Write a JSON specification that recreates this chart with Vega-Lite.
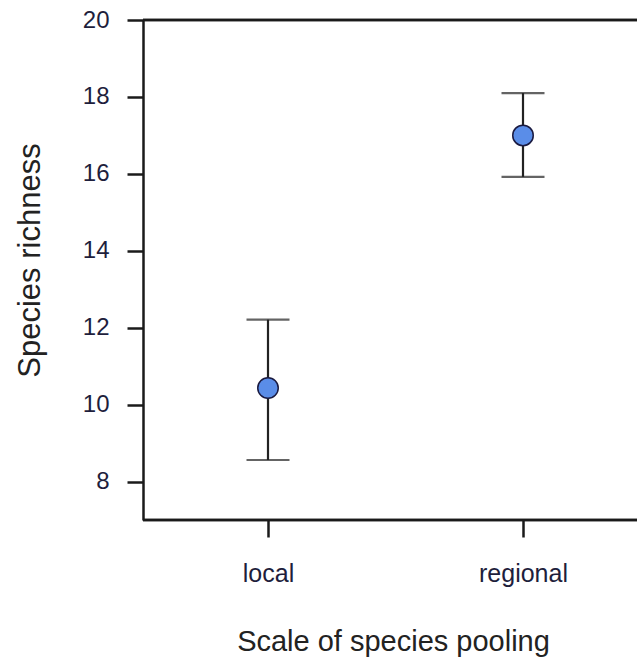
{
  "$schema": "https://vega.github.io/schema/vega-lite/v6.json",
  "width": 494,
  "height": 500,
  "autosize": {"type": "none"},
  "padding": {"left": 143, "top": 20, "right": 0, "bottom": 144},
  "background": "white",
  "config": {
    "view": {"stroke": null},
    "axis": {
      "grid": false,
      "domainColor": "#1a1a1a",
      "domainWidth": 2.5,
      "tickColor": "#1a1a1a",
      "tickWidth": 2.5,
      "labelFont": "Liberation Sans",
      "labelFontSize": 22,
      "labelColor": "#1e1e3c",
      "titleFont": "Liberation Sans",
      "titleFontSize": 29,
      "titleFontWeight": "normal",
      "titleColor": "#222222"
    }
  },
  "data": {
    "values": [
      {"scale": "local", "mean": 10.43, "lo": 8.56, "hi": 12.21},
      {"scale": "regional", "mean": 17.0, "lo": 15.92, "hi": 18.1}
    ]
  },
  "encoding": {
    "x": {
      "field": "scale",
      "type": "nominal",
      "scale": {"type": "point", "domain": ["local", "regional"], "range": [125, 380], "padding": 0},
      "axis": {
        "title": "Scale of species pooling",
        "domain": false,
        "labelAngle": 0,
        "labelFontSize": 25,
        "tickSize": 17,
        "labelPadding": 24,
        "labelBaseline": "top",
        "titleX": 250,
        "titleY": 121,
        "titleAlign": "center",
        "titleBaseline": "middle"
      }
    }
  },
  "layer": [
    {
      "mark": {"type": "rule", "color": "#1a1a1a", "strokeWidth": 2.5},
      "encoding": {"x": null, "y": {"datum": 20, "type": "quantitative"}}
    },
    {
      "mark": {"type": "rule", "color": "#1a1a1a", "strokeWidth": 2.5},
      "encoding": {"x": null, "y": {"datum": 7, "type": "quantitative"}}
    },
    {
      "mark": {"type": "rule", "color": "#222222", "strokeWidth": 2.2},
      "encoding": {
        "y": {
          "field": "lo",
          "type": "quantitative",
          "scale": {"domain": [7, 20], "nice": false, "zero": false},
          "axis": {
            "title": "Species richness",
            "values": [8, 10, 12, 14, 16, 18, 20],
            "labelFontSize": 24,
            "tickSize": 16,
            "labelPadding": 18,
            "titleFontSize": 31,
            "titleX": -113,
            "titleY": 240,
            "titleAngle": -90,
            "titleAlign": "center",
            "titleBaseline": "middle"
          }
        },
        "y2": {"field": "hi"}
      }
    },
    {
      "mark": {"type": "tick", "color": "#222222", "thickness": 2.2, "size": 43, "orient": "horizontal"},
      "encoding": {"y": {"field": "lo", "type": "quantitative"}}
    },
    {
      "mark": {"type": "tick", "color": "#222222", "thickness": 2.2, "size": 43, "orient": "horizontal"},
      "encoding": {"y": {"field": "hi", "type": "quantitative"}}
    },
    {
      "mark": {"type": "point", "filled": true, "shape": "circle", "size": 420, "fill": "#5a8de8", "stroke": "#1a1a40", "strokeWidth": 1.5, "opacity": 1},
      "encoding": {"y": {"field": "mean", "type": "quantitative"}}
    }
  ]
}
